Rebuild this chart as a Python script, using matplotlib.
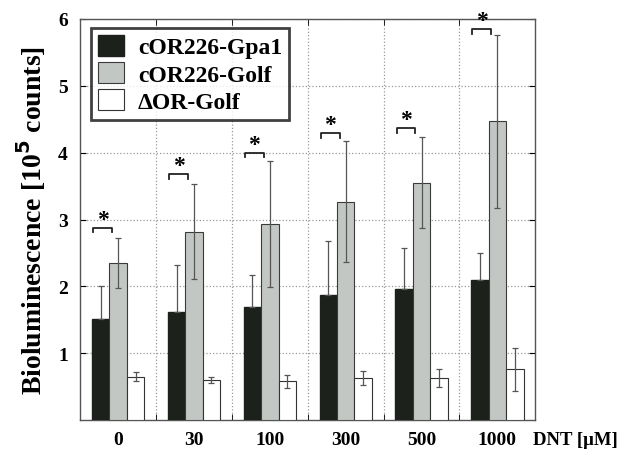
import numpy as np
import matplotlib
matplotlib.use("Agg")
from matplotlib import pyplot as plt

doses = ["0", "30", "100", "300", "500", "1000"]
gpa1 = [1.52, 1.62, 1.69, 1.87, 1.96, 2.10]
gpa1_err = [0.48, 0.70, 0.48, 0.81, 0.62, 0.40]
golf = [2.35, 2.82, 2.93, 3.27, 3.55, 4.47]
golf_err = [0.37, 0.71, 0.94, 0.90, 0.68, 1.29]
dor = [0.65, 0.60, 0.58, 0.63, 0.63, 0.76]
dor_err = [0.07, 0.05, 0.10, 0.11, 0.13, 0.32]
bracket_y = [2.88, 3.68, 4.00, 4.29, 4.37, 5.85]

plt.rcParams['font.family'] = ['Liberation Serif', 'DejaVu Serif']
plt.rcParams['font.weight'] = 'bold'

fig = plt.figure(figsize=(6.32, 4.52), dpi=100)
ax = fig.add_axes([0.127, 0.068, 0.72, 0.888])

x = np.arange(len(doses)) + 0.5
w = 0.23
ekw = dict(ecolor='#555555', elinewidth=0.9, capsize=2.5, capthick=0.9)
ax.bar(x - w, gpa1, w, color='#1c211c', edgecolor='#1c211c', label='cOR226-Gpa1',
       yerr=[np.zeros(len(gpa1)), gpa1_err], error_kw=ekw, zorder=3)
ax.bar(x, golf, w, color='#c3c7c3', edgecolor='#3a3a3a', linewidth=0.8, label='cOR226-Golf',
       yerr=golf_err, error_kw=ekw, zorder=3)
ax.bar(x + w, dor, w, color='white', edgecolor='#333333', linewidth=0.8, label='ΔOR-Golf',
       yerr=dor_err, error_kw=ekw, zorder=3)

for xi, by in zip(x, bracket_y):
    x0, x1 = xi - 0.33, xi - 0.08
    ax.plot([x0, x0, x1, x1], [by - 0.07, by, by, by - 0.07], color='#222222', lw=1.3, zorder=4)
    ax.text((x0 + x1) / 2, by - 0.03, '*', ha='center', va='bottom', fontsize=17, zorder=4)

ax.set_xlim(0, 6)
ax.set_ylim(0, 6)
ax.set_xticks(x)
ax.set_xticklabels(doses, fontsize=14, fontweight='bold')
ax.set_yticks([1, 2, 3, 4, 5, 6])
ax.set_yticklabels(['1', '2', '3', '4', '5', '6'], fontsize=14, fontweight='bold')
ax.set_xticks(np.arange(1, 6), minor=True)
ax.tick_params(axis='x', which='major', length=0, pad=8)
ax.tick_params(axis='x', which='minor', length=4, direction='in', top=True)
ax.tick_params(axis='y', length=4, direction='in', right=True, pad=9)
ax.grid(True, axis='y', linestyle=':', color='#999999', lw=0.9, zorder=0)
ax.grid(True, axis='x', which='minor', linestyle=':', color='#999999', lw=0.9, zorder=0)
for s in ax.spines.values():
    s.set_color('#555555')
    s.set_linewidth(1.0)

ax.set_ylabel('Bioluminescence [10$^\\mathbf{5}$ counts]', fontsize=20, fontweight='bold', labelpad=7)
ax.text(0.995, -0.048, 'DNT [μM]', transform=ax.transAxes, ha='left', va='center',
        fontsize=13.5, fontweight='bold')

leg = ax.legend(loc='upper left', bbox_to_anchor=(0.013, 0.99), prop={'weight': 'bold', 'size': 17},
                frameon=True, fancybox=False, edgecolor='#111111', handlelength=1.1, handleheight=1.0,
                borderpad=0.3, labelspacing=0.15, handletextpad=0.6, borderaxespad=0.2)
leg.get_frame().set_linewidth(2.0)
leg.set_zorder(5)

fig.savefig('out.png', dpi=100)
